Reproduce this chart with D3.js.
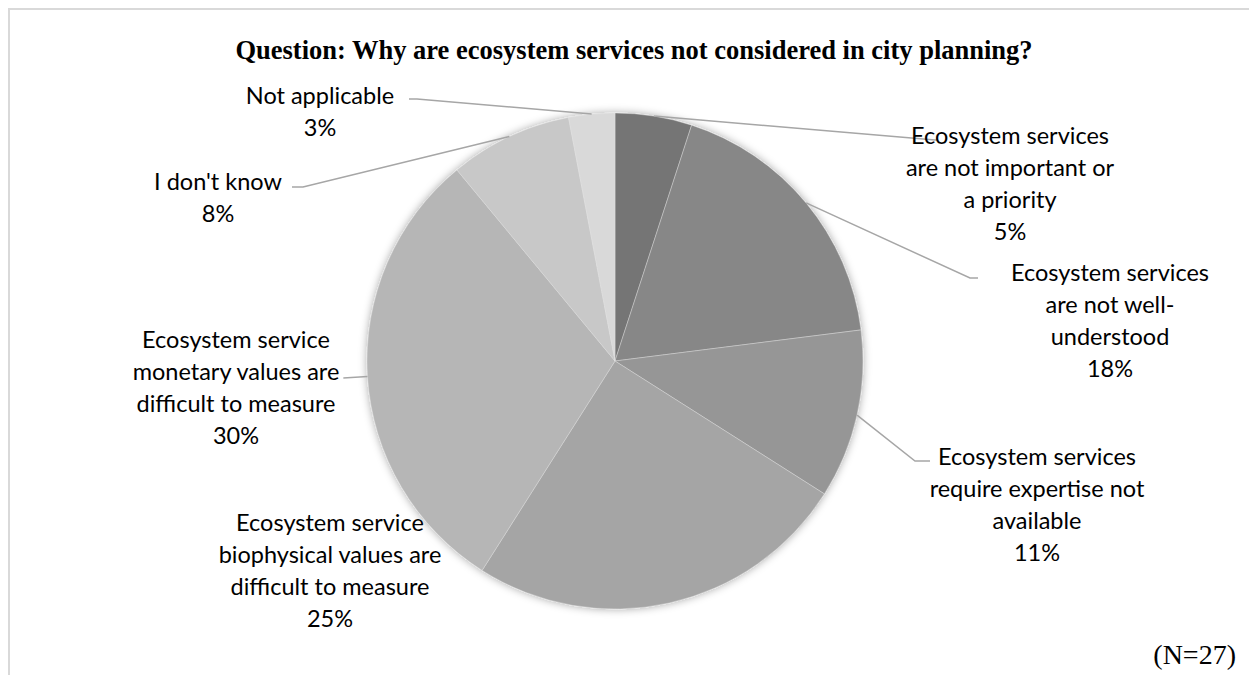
<!DOCTYPE html>
<html>
<head>
<meta charset="utf-8">
<script src="https://cdn.jsdelivr.net/npm/d3@7"></script>
<style>
  html, body { margin: 0; padding: 0; background: #fff; }
  svg { display: block; }
</style>
</head>
<body>
<svg id="chart" width="1249" height="675"></svg>
<script>
// Survey answers, clockwise from 12 o'clock
const categories = [
  "Ecosystem services are not important or a priority",
  "Ecosystem services are not well-understood",
  "Ecosystem services require expertise not available",
  "Ecosystem service biophysical values are difficult to measure",
  "Ecosystem service monetary values are difficult to measure",
  "I don't know",
  "Not applicable"
];
const labelLines = [
  ["Ecosystem services", "are not important or", "a priority"],
  ["Ecosystem services", "are not well-", "understood"],
  ["Ecosystem services", "require expertise not", "available"],
  ["Ecosystem service", "biophysical values are", "difficult to measure"],
  ["Ecosystem service", "monetary values are", "difficult to measure"],
  ["I don't know"],
  ["Not applicable"]
];
const values = [5, 18, 11, 25, 30, 8, 3];
const sliceColors = ["#757575", "#878787", "#969696", "#a5a5a5", "#b6b6b6", "#c8c8c8", "#d9d9d9"];
const titleText = "Question: Why are ecosystem services not considered in city planning?";
const noteText = "(N=27)";

// Layout
const cx = 615, cy = 361, radius = 248;
const lineStep = 32;
// label block: centre x, first-line centre y, leader points after the rim point;
// "fromLine" makes the leader start just past the end of that text line
const labelLayout = [
  { x: 1010, y: 136, leader: [[935, 140], [938, 140]] },
  { x: 1110, y: 273, leader: [[970, 278], [978, 278]] },
  { x: 1037, y: 457, leader: [[915, 461], [930, 461]] },
  { x: 330,  y: 523, leader: null },
  { x: 236,  y: 340, leader: [], fromLine: 1 },
  { x: 218,  y: 182, leader: [[303, 187], [292, 187]] },
  { x: 320,  y: 96,  leader: [[417, 99], [409, 99]] }
];

const svg = d3.select("#chart");
const W = 1249, H = 675;

// Chart frame
svg.append("path")
  .attr("d", `M${W},9 H9 V${H}`)
  .attr("fill", "none")
  .attr("stroke", "#d9d9d9")
  .attr("stroke-width", 2);

// Soft shadow behind the pie
const defs = svg.append("defs");
const f = defs.append("filter").attr("id", "pieShadow")
  .attr("x", "-20%").attr("y", "-20%").attr("width", "140%").attr("height", "140%");
f.append("feDropShadow")
  .attr("dx", 0).attr("dy", 0).attr("stdDeviation", 4)
  .attr("flood-color", "#000").attr("flood-opacity", 0.35);

// Title
svg.append("text")
  .attr("x", 634).attr("y", 59)
  .attr("text-anchor", "middle")
  .attr("font-family", "'Liberation Serif', 'Times New Roman', serif")
  .attr("font-weight", "bold")
  .attr("font-size", 26.5)
  .attr("fill", "#000")
  .text(titleText);

// Pie
const pie = d3.pie().sort(null).value(d => d);
const arcs = pie(values);
const arc = d3.arc().innerRadius(0).outerRadius(radius);

const g = svg.append("g").attr("transform", `translate(${cx},${cy})`);
const slices = g.append("g").attr("filter", "url(#pieShadow)");
slices.selectAll("path")
  .data(arcs)
  .join("path")
  .attr("d", arc)
  .attr("fill", (d, i) => sliceColors[i])
  .attr("stroke", "#e6e6e6")
  .attr("stroke-width", 0.4);

const leaderLayer = svg.append("g");
const labelLayer = svg.append("g");

// Labels: category text plus percentage
const fmt = d3.format(".0%");
const total = d3.sum(values);
const tspans = [];
arcs.forEach((d, i) => {
  const L = labelLayout[i];
  const lines = [...labelLines[i], fmt(values[i] / total)];
  const t = labelLayer.append("text")
    .attr("text-anchor", "middle")
    .attr("font-family", "Lato, 'Open Sans', sans-serif")
    .attr("font-size", 23.5)
    .attr("fill", "#000");
  tspans[i] = lines.map((s, k) =>
    t.append("tspan")
      .attr("x", L.x)
      .attr("y", L.y + k * lineStep)
      .attr("dy", "0.35em")
      .text(s)
  );
});

// Leader lines from slice mid-angle on the rim to the label
const rimPoint = d => {
  const a = (d.startAngle + d.endAngle) / 2;
  return [cx + Math.sin(a) * radius, cy - Math.cos(a) * radius];
};
const line = d3.line();
arcs.forEach((d, i) => {
  const L = labelLayout[i];
  if (!L.leader) return;
  const pts = [rimPoint(d), ...L.leader];
  if (L.fromLine !== undefined) {
    const bb = tspans[i][L.fromLine].node().getBBox();
    pts.push([bb.x + bb.width + 4, L.y + L.fromLine * lineStep + 6]);
  }
  leaderLayer.append("path")
    .attr("d", line(pts))
    .attr("fill", "none")
    .attr("stroke", "#a6a6a6")
    .attr("stroke-width", 1.5);
});

// Respondent count
svg.append("text")
  .attr("x", 1236).attr("y", 664)
  .attr("text-anchor", "end")
  .attr("font-family", "'Liberation Serif', 'Times New Roman', serif")
  .attr("font-size", 28)
  .attr("fill", "#000")
  .text(noteText);
</script>
</body>
</html>
